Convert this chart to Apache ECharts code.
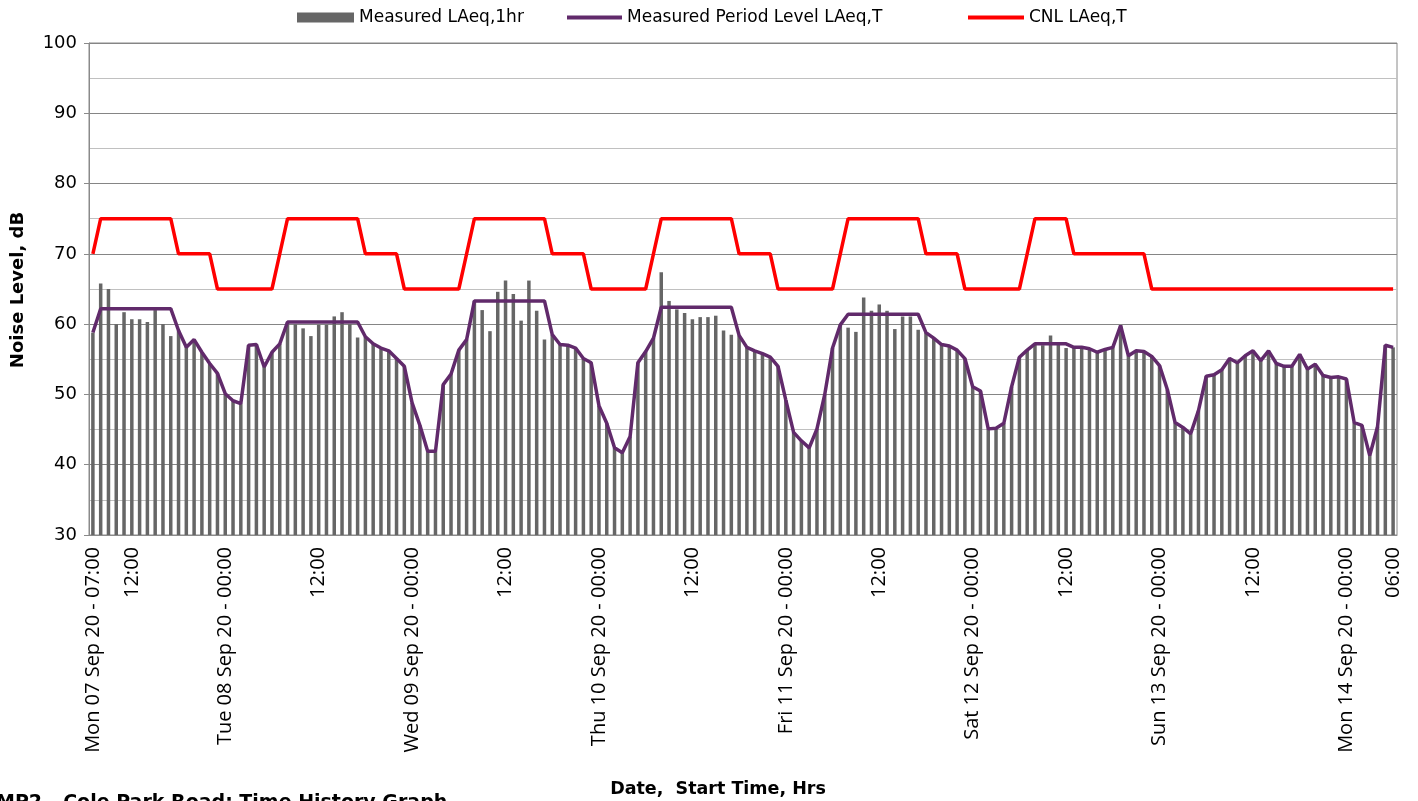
<!DOCTYPE html>
<html>
<head>
<meta charset="utf-8">
<title>MP2 - Time History Graph</title>
<script src="https://cdn.jsdelivr.net/npm/echarts@6/dist/echarts.min.js"></script>
<style>
  html, body { margin: 0; padding: 0; background: #fff; }
  #chart { width: 1418px; height: 801px; }
</style>
</head>
<body>
<div id="chart"></div>
<script>
// hourly readings, first one starts Mon 07 Sep 20 07:00
const dayNames = ['Mon 07 Sep 20', 'Tue 08 Sep 20', 'Wed 09 Sep 20', 'Thu 10 Sep 20',
  'Fri 11 Sep 20', 'Sat 12 Sep 20', 'Sun 13 Sep 20', 'Mon 14 Sep 20'];
const startHour = 7;
const hourCount = 168;

// Measured LAeq,1hr (bars)
const measured = [
  58.8, 65.8, 65.0, 60.0, 61.7, 60.7, 60.7, 60.3, 62.0, 60.0, 58.3,
  59.1, 56.7, 57.8, 56.0, 54.4, 53.0, 50.1, 49.1, 48.7, 57.0, 57.1, 53.9, 56.0, 57.2,
  60.3, 60.0, 59.4, 58.3, 59.9, 59.9, 61.1, 61.7, 60.0, 58.1,
  58.2, 57.2, 56.6, 56.2, 55.1, 54.0, 48.8, 45.6, 41.9, 41.9, 51.4, 52.9, 56.3, 57.8,
  63.3, 62.0, 59.0, 64.6, 66.2, 64.3, 60.5, 66.2, 61.9, 57.8,
  58.5, 57.1, 57.0, 56.6, 55.1, 54.5, 48.4, 45.9, 42.4, 41.7, 44.0, 54.5, 56.1, 58.0,
  67.4, 63.3, 62.1, 61.6, 60.7, 61.0, 61.0, 61.2, 59.1, 58.5,
  58.4, 56.7, 56.2, 55.8, 55.3, 54.0, 49.2, 44.6, 43.4, 42.4, 45.1, 50.0, 56.6, 59.9,
  59.5, 58.9, 63.8, 61.9, 62.8, 61.9, 59.3, 61.1, 61.1, 59.2,
  58.8, 58.0, 57.1, 56.9, 56.3, 55.1, 51.1, 50.5, 45.1, 45.2, 45.9, 51.1, 55.3, 56.3,
  57.1, 57.0, 58.4, 57.2, 56.6,
  56.7, 56.7, 56.5, 56.0, 56.4, 56.7, 59.8, 55.5, 56.2, 56.1, 55.4, 54.1, 50.7, 46.0,
  45.3, 44.4, 47.7, 52.6, 52.8, 53.5, 55.1, 54.5, 55.5, 56.2, 54.8, 56.2, 54.4, 54.0,
  54.0, 55.7, 53.6, 54.3, 52.7, 52.4, 52.5, 52.2, 46.0, 45.6, 41.3, 45.4, 57.0, 56.7
];

// Measured Period Level LAeq,T (purple line)
const periodLevel = [
  58.8, 62.2, 62.2, 62.2, 62.2, 62.2, 62.2, 62.2, 62.2, 62.2, 62.2,
  59.1, 56.7, 57.8, 56.0, 54.4, 53.0, 50.1, 49.1, 48.7, 57.0, 57.1, 53.9, 56.0, 57.2,
  60.3, 60.3, 60.3, 60.3, 60.3, 60.3, 60.3, 60.3, 60.3, 60.3,
  58.2, 57.2, 56.6, 56.2, 55.1, 54.0, 48.8, 45.6, 41.9, 41.9, 51.4, 52.9, 56.3, 57.8,
  63.3, 63.3, 63.3, 63.3, 63.3, 63.3, 63.3, 63.3, 63.3, 63.3,
  58.5, 57.1, 57.0, 56.6, 55.1, 54.5, 48.4, 45.9, 42.4, 41.7, 44.0, 54.5, 56.1, 58.0,
  62.4, 62.4, 62.4, 62.4, 62.4, 62.4, 62.4, 62.4, 62.4, 62.4,
  58.4, 56.7, 56.2, 55.8, 55.3, 54.0, 49.2, 44.6, 43.4, 42.4, 45.1, 50.0, 56.6, 59.9,
  61.4, 61.4, 61.4, 61.4, 61.4, 61.4, 61.4, 61.4, 61.4, 61.4,
  58.8, 58.0, 57.1, 56.9, 56.3, 55.1, 51.1, 50.5, 45.1, 45.2, 45.9, 51.1, 55.3, 56.3,
  57.2, 57.2, 57.2, 57.2, 57.2,
  56.7, 56.7, 56.5, 56.0, 56.4, 56.7, 59.8, 55.5, 56.2, 56.1, 55.4, 54.1, 50.7, 46.0,
  45.3, 44.4, 47.7, 52.6, 52.8, 53.5, 55.1, 54.5, 55.5, 56.2, 54.8, 56.2, 54.4, 54.0,
  54.0, 55.7, 53.6, 54.3, 52.7, 52.4, 52.5, 52.2, 46.0, 45.6, 41.3, 45.4, 57.0, 56.7
];

// CNL LAeq,T (red line)
const cnl = [
  70, 75, 75, 75, 75, 75, 75, 75, 75, 75, 75, 70, 70, 70, 70, 70, 65, 65, 65, 65, 65, 65, 65, 65,
  70, 75, 75, 75, 75, 75, 75, 75, 75, 75, 75, 70, 70, 70, 70, 70, 65, 65, 65, 65, 65, 65, 65, 65,
  70, 75, 75, 75, 75, 75, 75, 75, 75, 75, 75, 70, 70, 70, 70, 70, 65, 65, 65, 65, 65, 65, 65, 65,
  70, 75, 75, 75, 75, 75, 75, 75, 75, 75, 75, 70, 70, 70, 70, 70, 65, 65, 65, 65, 65, 65, 65, 65,
  70, 75, 75, 75, 75, 75, 75, 75, 75, 75, 75, 70, 70, 70, 70, 70, 65, 65, 65, 65, 65, 65, 65, 65,
  70, 75, 75, 75, 75, 75, 70, 70, 70, 70, 70, 70, 70, 70, 70, 70, 65, 65, 65, 65, 65, 65, 65, 65,
  65, 65, 65, 65, 65, 65, 65, 65, 65, 65, 65, 65, 65, 65, 65, 65, 65, 65, 65, 65, 65, 65, 65, 65
];

// category labels "Mon 07 Sep 20 - 07:00" ...
const categories = [];
for (let i = 0; i < hourCount; i++) {
  const t = startHour + i;
  const hh = String(t % 24).padStart(2, '0') + ':00';
  categories.push(dayNames[Math.floor(t / 24)] + ' - ' + hh);
}

// which hours get a tick label on the axis
const shownHours = ['00:00', '12:00'];

const chart = echarts.init(document.getElementById('chart'));

const legendText = { fontFamily: 'DejaVu Sans', fontSize: 17, color: '#000' };

chart.setOption({
  animation: false,
  legend: [
    { data: ['Measured LAeq,1hr'], left: 297, top: 9, padding: 0, icon: 'rect',
      itemWidth: 57, itemHeight: 10, textStyle: legendText },
    { data: ['Measured Period Level LAeq,T'], left: 567, top: 9, padding: 0, icon: 'rect',
      itemWidth: 55, itemHeight: 4, textStyle: legendText },
    { data: ['CNL LAeq,T'], left: 968, top: 9, padding: 0, icon: 'rect',
      itemWidth: 56, itemHeight: 4, textStyle: legendText }
  ],
  grid: {
    left: 89, right: 21, top: 43, bottom: 266,
    show: true, borderColor: '#8a8a8a', borderWidth: 1
  },
  xAxis: {
    type: 'category',
    data: categories,
    axisLine: { lineStyle: { color: '#8a8a8a', width: 1 } },
    axisTick: { show: false },
    splitLine: { show: false },
    axisLabel: {
      rotate: 90,
      margin: 12,
      color: '#000',
      fontFamily: 'Open Sans',
      fontSize: 20,
      interval: (idx, value) => idx === 0 || idx === hourCount - 1 || shownHours.includes(value.slice(-5)),
      formatter: (value, idx) => {
        const hh = value.slice(-5);
        if (idx === 0 || hh === '00:00') return value;
        return hh;
      }
    }
  },
  yAxis: {
    type: 'value',
    min: 30,
    max: 100,
    interval: 10,
    axisLine: { show: true, lineStyle: { color: '#8a8a8a' } },
    axisTick: { show: true, length: 5, lineStyle: { color: '#8a8a8a' } },
    axisLabel: { color: '#000', fontFamily: 'DejaVu Sans', fontSize: 18, margin: 12 },
    splitLine: { lineStyle: { color: '#858585', width: 1 } },
    minorTick: { show: false, splitNumber: 2 },
    minorSplitLine: { show: true, lineStyle: { color: '#c0c0c0', width: 1 } }
  },
  graphic: [
    {
      type: 'text', x: 18, y: 290, rotation: Math.PI / 2,
      style: { text: 'Noise Level, dB', fontFamily: 'DejaVu Sans', fontWeight: 'bold', fontSize: 18,
        fill: '#000', textAlign: 'center', textVerticalAlign: 'middle' }
    },
    {
      type: 'text', x: 718, y: 789,
      style: { text: 'Date,  Start Time, Hrs', fontFamily: 'DejaVu Sans', fontWeight: 'bold', fontSize: 17.5,
        fill: '#000', textAlign: 'center', textVerticalAlign: 'middle' }
    },
    {
      type: 'text', x: -4, y: 803,
      style: { text: 'MP2 - Cole Park Road: Time History Graph', fontFamily: 'DejaVu Sans', fontWeight: 'bold',
        fontSize: 19, fill: '#000', textAlign: 'left', textVerticalAlign: 'middle' }
    }
  ],
  series: [
    {
      name: 'Measured LAeq,1hr',
      type: 'bar',
      data: measured,
      barWidth: 3.5,
      itemStyle: { color: '#666666' }
    },
    {
      name: 'Measured Period Level LAeq,T',
      type: 'line',
      data: periodLevel,
      symbol: 'none',
      lineStyle: { color: '#612a6b', width: 3.5 },
      itemStyle: { color: '#612a6b' },
      z: 3
    },
    {
      name: 'CNL LAeq,T',
      type: 'line',
      data: cnl,
      symbol: 'none',
      lineStyle: { color: '#ff0000', width: 3.5 },
      itemStyle: { color: '#ff0000' },
      z: 4
    }
  ]
});
</script>
</body>
</html>
